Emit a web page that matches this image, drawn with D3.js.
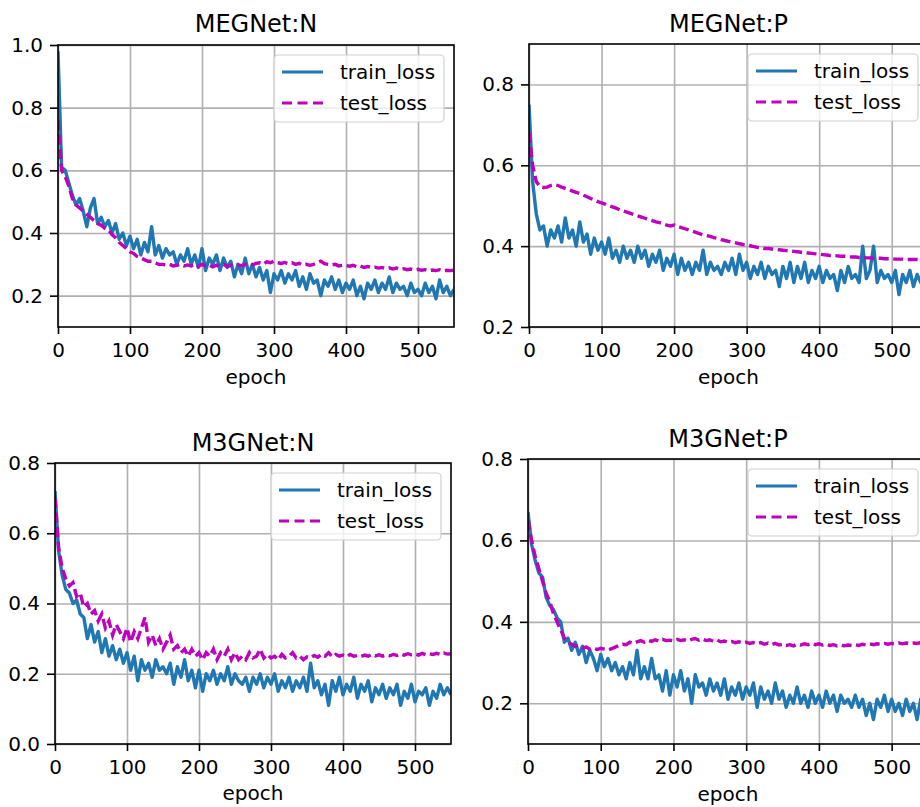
<!DOCTYPE html>
<html>
<head>
<meta charset="utf-8">
<script src="https://cdn.jsdelivr.net/npm/d3@7"></script>
<style>
  body { margin: 0; background: #fff; overflow: hidden; }
  svg { display: block; font-family: "DejaVu Sans", sans-serif; }
</style>
</head>
<body>
<svg width="920" height="807"></svg>
<script>
// one value every 5 epochs, 0..550
const epochs = d3.range(0, 551, 5);
const titles = ["MEGNet:N", "MEGNet:P", "M3GNet:N", "M3GNet:P"];
const seriesNames = ["train_loss", "test_loss"];
const xTicks = [0, 100, 200, 300, 400, 500];

const megnetNTrain = [
  0.98, 0.61, 0.60, 0.56, 0.52, 0.49, 0.51, 0.47, 0.42, 0.48,
  0.51, 0.43, 0.45, 0.42, 0.44, 0.40, 0.43, 0.38, 0.40, 0.36,
  0.39, 0.35, 0.38, 0.33, 0.37, 0.34, 0.42, 0.33, 0.36, 0.32,
  0.35, 0.33, 0.34, 0.30, 0.33, 0.31, 0.35, 0.30, 0.33, 0.29,
  0.35, 0.28, 0.32, 0.30, 0.33, 0.28, 0.32, 0.29, 0.31, 0.26,
  0.30, 0.27, 0.32, 0.27, 0.30, 0.26, 0.29, 0.25, 0.28, 0.21,
  0.27, 0.25, 0.28, 0.24, 0.27, 0.25, 0.28, 0.23, 0.26, 0.22,
  0.27, 0.24, 0.25, 0.20, 0.25, 0.23, 0.26, 0.22, 0.25, 0.21,
  0.24, 0.22, 0.25, 0.20, 0.23, 0.19, 0.24, 0.22, 0.25, 0.21,
  0.24, 0.22, 0.26, 0.21, 0.24, 0.22, 0.23, 0.20, 0.24, 0.21,
  0.22, 0.20, 0.24, 0.21, 0.23, 0.19, 0.25, 0.21, 0.23, 0.20, 0.22
];
const megnetNTest = [
  0.76, 0.60, 0.58, 0.55, 0.51, 0.49, 0.48, 0.47, 0.46, 0.45,
  0.44, 0.43, 0.425, 0.415, 0.41, 0.395, 0.385, 0.37, 0.36, 0.35,
  0.34, 0.335, 0.325, 0.32, 0.315, 0.31, 0.31, 0.305, 0.30, 0.30,
  0.298, 0.30, 0.295, 0.297, 0.30, 0.295, 0.298, 0.295, 0.30, 0.293,
  0.30, 0.295, 0.298, 0.292, 0.297, 0.295, 0.30, 0.293, 0.297, 0.295,
  0.298, 0.296, 0.30, 0.302, 0.298, 0.303, 0.305, 0.30, 0.308, 0.305,
  0.31, 0.305, 0.303, 0.306, 0.302, 0.305, 0.30, 0.303, 0.298, 0.30,
  0.297, 0.30, 0.305, 0.31, 0.302, 0.30, 0.298, 0.30, 0.295, 0.297,
  0.296, 0.294, 0.297, 0.292, 0.295, 0.29, 0.293, 0.29, 0.291, 0.288,
  0.29, 0.287, 0.289, 0.285, 0.288, 0.284, 0.286, 0.283, 0.285, 0.282,
  0.284, 0.281, 0.283, 0.28, 0.282, 0.28, 0.283, 0.279, 0.281, 0.28, 0.281
];

const megnetPTrain = [
  0.75, 0.56, 0.48, 0.44, 0.45, 0.40, 0.44, 0.42, 0.45, 0.41,
  0.47, 0.42, 0.44, 0.40, 0.46, 0.41, 0.43, 0.38, 0.42, 0.39,
  0.41, 0.38, 0.42, 0.37, 0.39, 0.36, 0.40, 0.37, 0.39, 0.36,
  0.40, 0.37, 0.39, 0.35, 0.38, 0.36, 0.39, 0.34, 0.37, 0.35,
  0.38, 0.33, 0.37, 0.34, 0.36, 0.33, 0.36, 0.34, 0.39, 0.33,
  0.36, 0.34, 0.35, 0.33, 0.36, 0.34, 0.37, 0.33, 0.38, 0.34,
  0.36, 0.32, 0.35, 0.33, 0.36, 0.32, 0.35, 0.33, 0.34, 0.30,
  0.35, 0.32, 0.36, 0.31, 0.35, 0.32, 0.36, 0.31, 0.34, 0.32,
  0.35, 0.31, 0.34, 0.32, 0.33, 0.29, 0.34, 0.31, 0.35, 0.32,
  0.33, 0.31, 0.40, 0.32, 0.34, 0.40, 0.31, 0.34, 0.32, 0.33,
  0.31, 0.34, 0.28, 0.33, 0.31, 0.34, 0.30, 0.33, 0.31, 0.34, 0.32
];
const megnetPTest = [
  0.68, 0.60, 0.56, 0.547, 0.545, 0.546, 0.55, 0.552, 0.55, 0.546,
  0.543, 0.54, 0.536, 0.533, 0.53, 0.526, 0.522, 0.518, 0.514, 0.51,
  0.507, 0.504, 0.50, 0.497, 0.494, 0.49, 0.487, 0.484, 0.481, 0.478,
  0.475, 0.472, 0.469, 0.466, 0.463, 0.46, 0.458, 0.455, 0.452, 0.45,
  0.452, 0.449, 0.446, 0.443, 0.44, 0.437, 0.434, 0.431, 0.428, 0.426,
  0.424, 0.421, 0.419, 0.416, 0.414, 0.412, 0.41, 0.408, 0.406, 0.404,
  0.403, 0.401, 0.399, 0.397, 0.396, 0.394, 0.394, 0.393, 0.392, 0.391,
  0.39, 0.389, 0.388, 0.387, 0.386, 0.385, 0.384, 0.383, 0.382, 0.381,
  0.38, 0.379, 0.378, 0.377, 0.377, 0.376, 0.375, 0.375, 0.374, 0.373,
  0.373, 0.372, 0.372, 0.371, 0.371, 0.37, 0.37, 0.37, 0.369, 0.369,
  0.369, 0.368, 0.368, 0.368, 0.367, 0.367, 0.367, 0.367, 0.366, 0.366, 0.366
];

const m3gnetNTrain = [
  0.72, 0.55, 0.48, 0.44, 0.43, 0.40, 0.41, 0.37, 0.36, 0.30,
  0.34, 0.29, 0.32, 0.26, 0.30, 0.25, 0.28, 0.24, 0.27, 0.23,
  0.26, 0.21, 0.25, 0.18, 0.24, 0.21, 0.23, 0.19, 0.24, 0.21,
  0.22, 0.20, 0.23, 0.17, 0.22, 0.19, 0.24, 0.18, 0.21, 0.16,
  0.21, 0.15, 0.20, 0.18, 0.21, 0.17, 0.20, 0.18, 0.22, 0.17,
  0.20, 0.18, 0.17, 0.19, 0.15, 0.19, 0.17, 0.20, 0.16, 0.19,
  0.17, 0.20, 0.15, 0.18, 0.16, 0.19, 0.15, 0.18, 0.16, 0.19,
  0.15, 0.23, 0.16, 0.18, 0.14, 0.17, 0.11, 0.18, 0.15, 0.19,
  0.14, 0.17, 0.15, 0.19, 0.13, 0.17, 0.15, 0.18, 0.12, 0.16,
  0.14, 0.17, 0.13, 0.16, 0.14, 0.17, 0.11, 0.15, 0.13, 0.17,
  0.12, 0.15, 0.14, 0.16, 0.11, 0.15, 0.13, 0.17, 0.14, 0.16, 0.14
];
const m3gnetNTest = [
  0.70, 0.56, 0.50, 0.47, 0.45, 0.46, 0.42, 0.43, 0.39, 0.40,
  0.37, 0.38, 0.35, 0.37, 0.33, 0.35, 0.31, 0.34, 0.32, 0.30,
  0.33, 0.29, 0.32, 0.30, 0.33, 0.36, 0.29, 0.31, 0.28, 0.30,
  0.27, 0.29, 0.31, 0.27, 0.28, 0.26, 0.27, 0.25, 0.27, 0.25,
  0.26, 0.24, 0.26, 0.25, 0.27, 0.24, 0.26, 0.25, 0.27, 0.24,
  0.26, 0.24, 0.25, 0.24, 0.26, 0.245, 0.25, 0.27, 0.245, 0.255,
  0.245, 0.25, 0.24, 0.255, 0.245, 0.25, 0.26, 0.245, 0.25, 0.24,
  0.248, 0.245, 0.252, 0.247, 0.255, 0.25, 0.26, 0.248, 0.255, 0.25,
  0.253, 0.248, 0.255, 0.25, 0.252, 0.249, 0.253, 0.25, 0.255, 0.251,
  0.254, 0.25, 0.253, 0.251, 0.255, 0.252, 0.256, 0.253, 0.257, 0.254,
  0.256, 0.253, 0.258, 0.254, 0.257, 0.255, 0.258, 0.255, 0.259, 0.256, 0.257
];

const m3gnetPTrain = [
  0.67, 0.59, 0.55, 0.52, 0.51, 0.46, 0.44, 0.43, 0.41, 0.40,
  0.35, 0.36, 0.33, 0.35, 0.32, 0.34, 0.30, 0.33, 0.31, 0.28,
  0.32, 0.29, 0.31, 0.28, 0.30, 0.27, 0.29, 0.26, 0.30, 0.27,
  0.33, 0.26, 0.29, 0.26, 0.31, 0.26, 0.27, 0.23, 0.28, 0.22,
  0.27, 0.24, 0.28, 0.23, 0.26, 0.20, 0.27, 0.24, 0.25, 0.22,
  0.26, 0.23, 0.25, 0.22, 0.26, 0.21, 0.24, 0.22, 0.25, 0.21,
  0.24, 0.22, 0.25, 0.19, 0.24, 0.21, 0.23, 0.20, 0.25, 0.21,
  0.23, 0.19, 0.22, 0.20, 0.24, 0.20, 0.22, 0.19, 0.23, 0.20,
  0.22, 0.19, 0.23, 0.20, 0.22, 0.18, 0.22, 0.20, 0.21, 0.19,
  0.22, 0.19, 0.21, 0.17, 0.20, 0.16, 0.21, 0.19, 0.22, 0.18,
  0.21, 0.18, 0.20, 0.17, 0.21, 0.18, 0.20, 0.16, 0.21, 0.18, 0.20
];
const m3gnetPTest = [
  0.65, 0.60, 0.56, 0.53, 0.50, 0.47, 0.45, 0.42, 0.40, 0.38,
  0.36, 0.35, 0.345, 0.34, 0.342, 0.336, 0.338, 0.333, 0.336, 0.332,
  0.335, 0.333, 0.331, 0.334, 0.338, 0.342, 0.345, 0.344, 0.35, 0.347,
  0.351, 0.354, 0.35, 0.355, 0.352, 0.356, 0.353, 0.357, 0.354, 0.355,
  0.353, 0.357, 0.354, 0.356, 0.353, 0.357, 0.359, 0.355, 0.358, 0.354,
  0.356, 0.352, 0.355, 0.351, 0.353, 0.35, 0.352, 0.349, 0.351, 0.348,
  0.35, 0.347, 0.349, 0.346, 0.349, 0.345, 0.348, 0.344, 0.347, 0.343,
  0.345, 0.342, 0.344, 0.341, 0.345, 0.343, 0.346, 0.344, 0.347, 0.344,
  0.346, 0.343, 0.345, 0.342, 0.344, 0.341, 0.343, 0.341, 0.343, 0.342,
  0.344, 0.342, 0.345, 0.343, 0.346, 0.344, 0.346, 0.345, 0.347, 0.345,
  0.347, 0.346, 0.348, 0.346, 0.348, 0.347, 0.348, 0.347, 0.349, 0.348, 0.349
];

const trainColor = "#1f77b4";
const testColor = "#bf00bf";

const panels = [
  { title: titles[0], train: megnetNTrain, test: megnetNTest, yDomain: [0.1, 1.0], yTicks: [0.2, 0.4, 0.6, 0.8, 1.0],
    left: 58, top: 45, width: 396, height: 282, titleY: 32, labelY: 384 },
  { title: titles[1], train: megnetPTrain, test: megnetPTest, yDomain: [0.2, 0.9], yTicks: [0.2, 0.4, 0.6, 0.8],
    left: 529, top: 44, width: 399, height: 283, titleY: 32, labelY: 384 },
  { title: titles[2], train: m3gnetNTrain, test: m3gnetNTest, yDomain: [0.0, 0.8], yTicks: [0.0, 0.2, 0.4, 0.6, 0.8],
    left: 55, top: 463, width: 396, height: 281, titleY: 451, labelY: 800 },
  { title: titles[3], train: m3gnetPTrain, test: m3gnetPTest, yDomain: [0.1, 0.8], yTicks: [0.2, 0.4, 0.6, 0.8],
    left: 528, top: 459, width: 400, height: 285, titleY: 447, labelY: 801 }
];

const svg = d3.select("svg");

panels.forEach((p, i) => {
  const x = d3.scaleLinear().domain([0, 550]).range([0, p.width]);
  const y = d3.scaleLinear().domain(p.yDomain).range([p.height, 0]);

  const g = svg.append("g").attr("transform", `translate(${p.left}, ${p.top})`);

  g.append("clipPath")
   .attr("id", `clip${i}`)
   .append("rect")
   .attr("width", p.width)
   .attr("height", p.height);

  // grid
  g.append("g")
   .attr("transform", `translate(0, ${p.height})`)
   .call(d3.axisBottom(x).tickValues(xTicks).tickSize(-p.height).tickFormat(""))
   .call(a => a.select(".domain").remove())
   .selectAll("line").attr("stroke", "#b0b0b0").attr("stroke-width", 1.6);

  g.append("g")
   .call(d3.axisLeft(y).tickValues(p.yTicks).tickSize(-p.width).tickFormat(""))
   .call(a => a.select(".domain").remove())
   .selectAll("line").attr("stroke", "#b0b0b0").attr("stroke-width", 1.6);

  const line = d3.line()
                 .x((d, j) => x(epochs[j]))
                 .y(d => y(d));

  const lines = g.append("g").attr("clip-path", `url(#clip${i})`);

  lines.append("path")
       .datum(p.train)
       .attr("d", line)
       .attr("fill", "none")
       .attr("stroke", trainColor)
       .attr("stroke-width", 3.4)
       .attr("stroke-linejoin", "round");

  lines.append("path")
       .datum(p.test)
       .attr("d", line)
       .attr("fill", "none")
       .attr("stroke", testColor)
       .attr("stroke-width", 3.4)
       .attr("stroke-dasharray", "10,4.5");

  // axes with tick labels
  const xAxis = g.append("g")
                 .attr("transform", `translate(0, ${p.height})`)
                 .call(d3.axisBottom(x).tickValues(xTicks).tickSize(7).tickPadding(9));
  const yAxis = g.append("g")
                 .call(d3.axisLeft(y).tickValues(p.yTicks).tickFormat(d3.format(".1f")).tickSize(8).tickPadding(7));

  [xAxis, yAxis].forEach(a => {
    a.select(".domain").remove();
    a.selectAll("line").attr("stroke", "#000").attr("stroke-width", 1.6);
    a.selectAll("text")
     .attr("fill", "#000")
     .style("font-size", "20px")
     .style("font-family", "DejaVu Sans, sans-serif");
  });

  // spines
  g.append("rect")
   .attr("width", p.width)
   .attr("height", p.height)
   .attr("fill", "none")
   .attr("stroke", "#000")
   .attr("stroke-width", 1.6);

  svg.append("text")
     .attr("x", p.left + p.width / 2)
     .attr("y", p.titleY)
     .attr("text-anchor", "middle")
     .style("font-size", "24px")
     .text(p.title);

  svg.append("text")
     .attr("x", p.left + p.width / 2)
     .attr("y", p.labelY)
     .attr("text-anchor", "middle")
     .style("font-size", "20px")
     .text("epoch");

  // legend
  const legend = g.append("g")
                  .attr("transform", `translate(${p.width - 180}, 10)`);

  legend.append("rect")
        .attr("width", 170)
        .attr("height", 67)
        .attr("rx", 4)
        .attr("fill", "#fff")
        .attr("fill-opacity", 0.8)
        .attr("stroke", "#d0d0d0")
        .attr("stroke-width", 1.2);

  [trainColor, testColor].forEach((c, k) => {
    const ry = 17 + k * 31;
    legend.append("line")
          .attr("x1", 8).attr("x2", 49)
          .attr("y1", ry).attr("y2", ry)
          .attr("stroke", c)
          .attr("stroke-width", 3)
          .attr("stroke-dasharray", k ? "10,5.5" : null);
    legend.append("text")
          .attr("x", 66)
          .attr("y", ry)
          .attr("dy", "0.35em")
          .style("font-size", "20px")
          .text(seriesNames[k]);
  });
});
</script>
</body>
</html>
